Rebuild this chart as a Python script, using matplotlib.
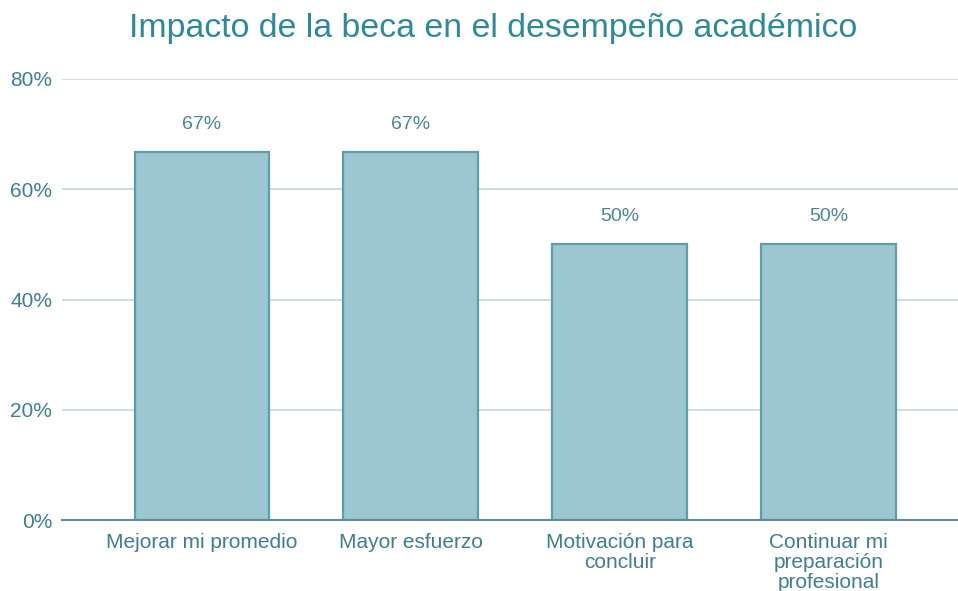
import matplotlib.pyplot as plt

plt.rcParams['font.family'] = ['Liberation Sans', 'DejaVu Sans']

categories = ["Mejorar mi promedio", "Mayor esfuerzo", "Motivación para\nconcluir",
              "Continuar mi\npreparación\nprofesional"]
values = [66.7, 66.7, 50.0, 50.0]
value_labels = ["67%", "67%", "50%", "50%"]
y_ticks = [0, 20, 40, 60, 80]

TEXT = '#3f7f8e'
fig = plt.figure(figsize=(9.58, 5.91), dpi=100)
ax = fig.add_axes([62 / 958, 1 - 520 / 591, 1 - 62 / 958, (520 - 79) / 591])

x = range(len(categories))
ax.bar(x, values, width=0.645, color='#9cc6d0', edgecolor='#5f9dac', linewidth=1.6, zorder=3)
for xi, v, lab in zip(x, values, value_labels):
    ax.text(xi, v + 5.0, lab, ha='center', va='center', fontsize=14, color='#4a8797')

ax.set_xlim(-0.67, 3.62)
ax.set_ylim(0, 80)
ax.set_yticks(y_ticks)
ax.set_yticklabels([f"{t}%" for t in y_ticks])
ax.set_xticks(list(x))
ax.set_xticklabels(categories, va='top', linespacing=1.07)
ax.tick_params(axis='both', length=0, labelsize=15, colors=TEXT)
ax.tick_params(axis='y', pad=7)
ax.tick_params(axis='x', pad=9)
ax.grid(axis='y', color='#c6dae0', linewidth=1.2, zorder=0)
for s in ['top', 'right', 'left']:
    ax.spines[s].set_visible(False)
ax.spines['bottom'].set_color('#5e8b96')
ax.spines['bottom'].set_linewidth(1.5)
ax.spines['bottom'].set_zorder(4)

fig.text(0.515, 1 - 28 / 591, "Impacto de la beca en el desempeño académico",
         ha='center', va='center', fontsize=24.4, color='#2f8a98')

fig.savefig('out.png', dpi=100)
